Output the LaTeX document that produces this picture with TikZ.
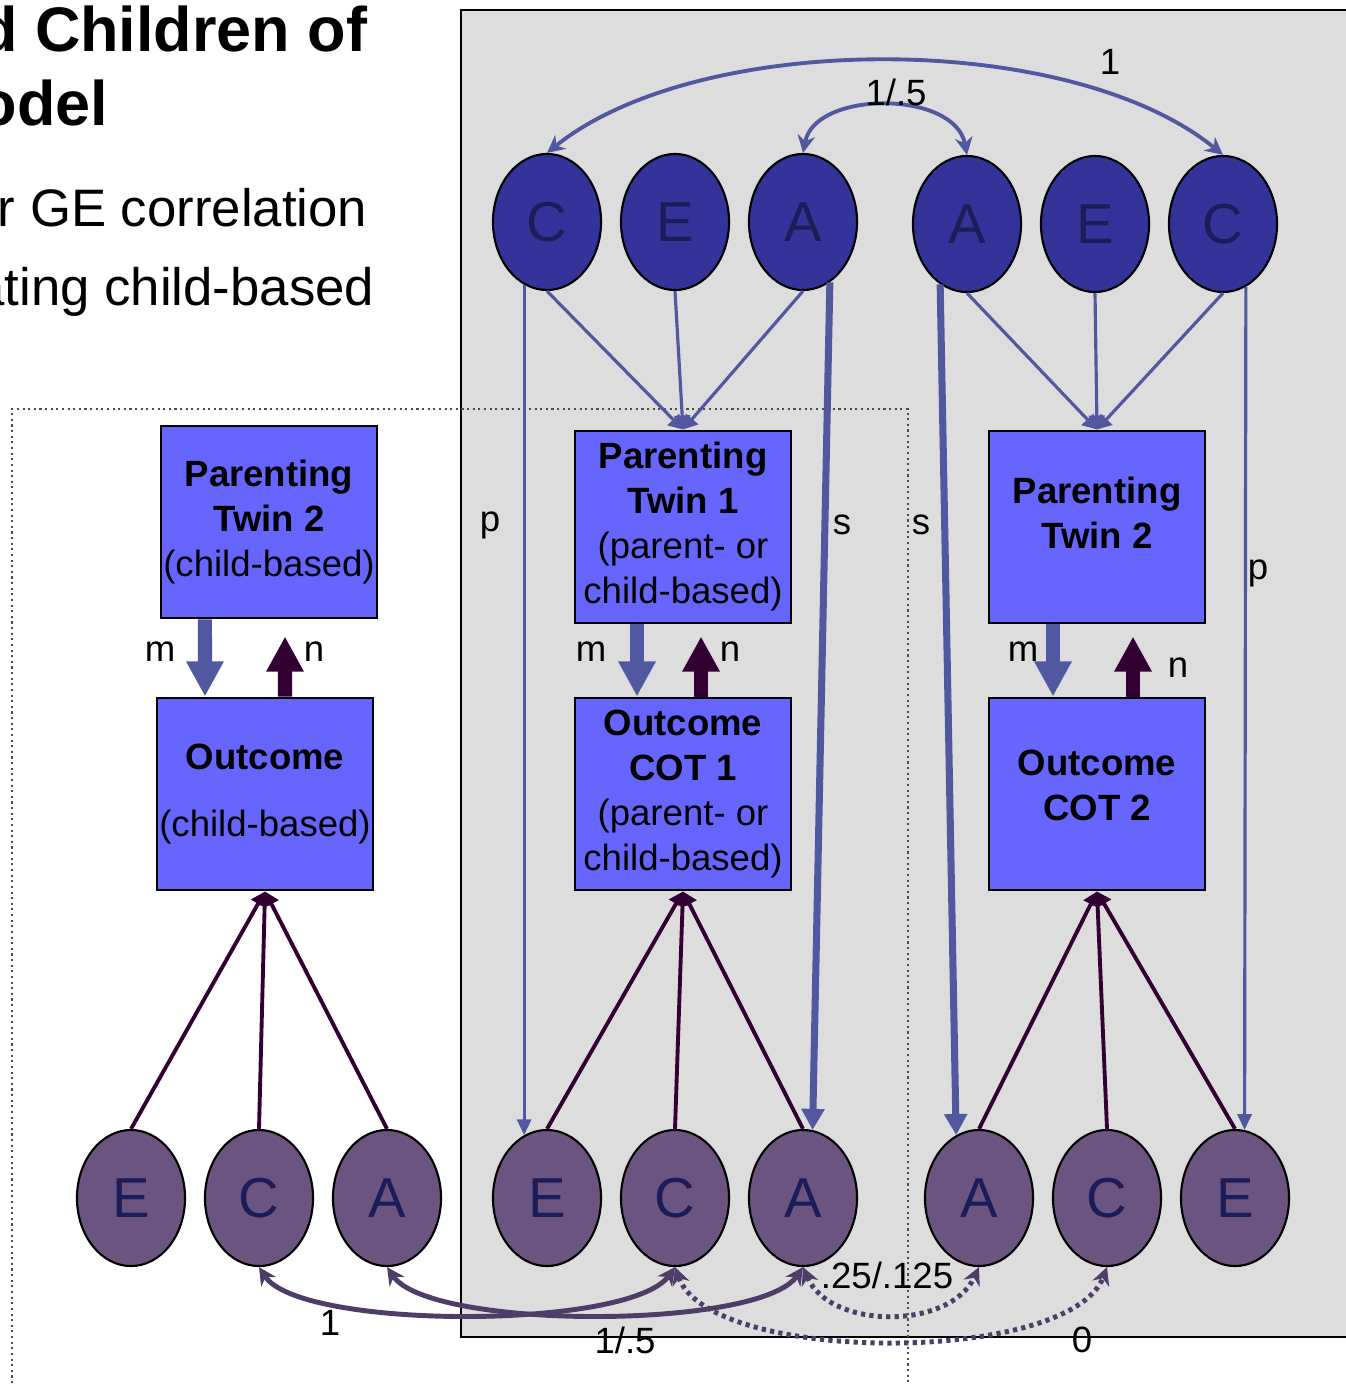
\documentclass[tikz,border=0pt]{standalone}
\usepackage{fontspec}
\setmainfont{Liberation Sans}
\usetikzlibrary{shapes.geometric,arrows.meta}

\definecolor{topfill}{HTML}{333399}
\definecolor{botfill}{HTML}{6B5580}
\definecolor{letter}{HTML}{1C1C58}
\definecolor{boxfill}{HTML}{6666FF}
\definecolor{bgray}{HTML}{DDDDDD}
\definecolor{pathblue}{HTML}{5258A0}
\definecolor{pathpurple}{HTML}{330033}
\definecolor{corrpurple}{HTML}{4E3D68}

\tikzset{
  latent/.style={ellipse,draw=black,line width=0.6pt,minimum width=1.08cm,
    minimum height=1.36cm,inner sep=0pt,text=letter,font=\fontsize{16}{16}\selectfont},
  toplat/.style={latent,fill=topfill},
  botlat/.style={latent,fill=botfill},
  measure/.style={draw=black,line width=0.8pt,fill=boxfill,minimum width=2.16cm,
    minimum height=1.92cm,inner sep=0pt,align=center,font=\fontsize{10.4}{12.8}\selectfont},
  lbl/.style={inner sep=0pt,font=\fontsize{10.4}{12.8}\selectfont},
  ttl/.style={inner sep=0pt,font=\fontsize{17.9}{20}\selectfont\bfseries},
  subttl/.style={inner sep=0pt,font=\fontsize{15}{18}\selectfont},
  frame/.style={draw=black!70,line width=0.5pt,dash pattern=on 0.6pt off 1pt},
  load/.style={draw=pathblue,line width=0.9pt,-{Triangle[length=4pt,width=4.5pt]}},
  ploading/.style={draw=pathpurple,line width=1.1pt,-{Triangle[length=4pt,width=4.5pt]}},
  ppath/.style={draw=pathblue,line width=0.9pt,-{Triangle[length=4.5pt,width=4pt]}},
  spath/.style={draw=pathblue,line width=2pt,-{Triangle[length=6pt,width=6.3pt]}},
  marrow/.style={draw=pathblue,line width=4pt,-{Triangle[length=10pt,width=10pt]}},
  narrow/.style={draw=pathpurple,line width=4pt,-{Triangle[length=10pt,width=10pt]}},
  topcorr/.style={draw=pathblue,line width=1.1pt,
    {Stealth[length=5pt,width=5pt]}-{Stealth[length=5pt,width=5pt]}},
  botcorr/.style={draw=corrpurple,line width=1.4pt,
    {Stealth[length=5pt,width=5pt]}-{Stealth[length=5pt,width=5pt]}},
  botcorrdot/.style={botcorr,dash pattern=on 1.2pt off 1.2pt}
}

\begin{document}
\begin{tikzpicture}[x=0.01cm,y=-0.01cm]
    \useasboundingbox (0,0) rectangle (1346,1385);
    % panel and dotted frame
    \draw[fill=bgray,line width=0.6pt] (461,10) rectangle (1400,1337);
    \draw[frame] (12,1400) -- (12,409) -- (908,409) -- (908,1400);
    % title, cut off at the left edge
    \node[ttl,anchor=base east] (t1) at (368,52) {d Children of};
    \node[ttl,anchor=base east] (t2) at (109,126) {odel};
    \node[subttl,anchor=base east] (t3) at (368,227) {r GE correlation};
    \node[subttl,anchor=base east] (t4) at (375,305) {ating child-based};
    % latent factors
    \foreach \n/\x/\y/\t in {tc1/547/222/C,te1/675/222/E,ta1/803/222/A,
        ta2/967/224/A,te2/1095/224/E,tc2/1223/224/C}
      \node[toplat] (\n) at (\x,\y) {\t};
    \foreach \n/\x/\t in {lbe/131/E,lbc/259/C,lba/387/A,mbe/547/E,mbc/675/C,
        mba/803/A,rba/979/A,rbc/1107/C,rbe/1235/E}
      \node[botlat] (\n) at (\x,1198) {\t};
    % measured variables
    \node[measure] (lpar) at (269,522) {\textbf{Parenting}\\\textbf{Twin 2}\\(child-based)};
    \node[measure] (lout) at (265,794) {\textbf{Outcome}\\[0.22cm](child-based)};
    \node[measure] (mpar) at (683,527) {\textbf{Parenting}\\\textbf{Twin 1}\\(parent- or\\child-based)};
    \node[measure] (mout) at (683,794) {\textbf{Outcome}\\\textbf{COT 1}\\(parent- or\\child-based)};
    \node[measure] (rpar) at (1097,527) {\textbf{Parenting}\\\textbf{Twin 2}\\[-0.17cm]\mbox{}};
    \node[measure] (rout) at (1097,794) {\textbf{Outcome}\\\textbf{COT 2}\\[-0.27cm]\mbox{}};
    % loadings
    \foreach \n in {tc1,te1,ta1}
      \draw[load] (\n.south) -- (mpar.north);
    \foreach \n in {ta2,te2,tc2}
      \draw[load] (\n.south) -- (rpar.north);
    \foreach \n in {lbe,lbc,lba}
      \draw[ploading] (\n.north) -- (lout.south);
    \foreach \n in {mbe,mbc,mba}
      \draw[ploading] (\n.north) -- (mout.south);
    \foreach \n in {rba,rbc,rbe}
      \draw[ploading] (\n.north) -- (rout.south);
    % m and n
    \draw[marrow] ([xshift=-0.64cm]lpar.south) -- ([xshift=-0.60cm]lout.north);
    \draw[narrow] ([xshift=0.20cm]lout.north) -- ([xshift=0.16cm,yshift=-0.17cm]lpar.south);
    \draw[marrow] ([xshift=-0.46cm]mpar.south) -- ([xshift=-0.46cm]mout.north);
    \draw[narrow] ([xshift=0.18cm]mout.north) -- ([xshift=0.18cm,yshift=-0.12cm]mpar.south);
    \draw[marrow] ([xshift=-0.44cm]rpar.south) -- ([xshift=-0.44cm]rout.north);
    \draw[narrow] ([xshift=0.36cm]rout.north) -- ([xshift=0.36cm,yshift=-0.12cm]rpar.south);
    \node[lbl] (m1) at (160,652) {m};
    \node[lbl] (n1) at (314,652) {n};
    \node[lbl] (m2) at (591,652) {m};
    \node[lbl] (n2) at (730,652) {n};
    \node[lbl] (m3) at (1023,652) {m};
    \node[lbl] (n3) at (1178,668) {n};
    % p and s
    \draw[ppath] (tc1.250) -- (mbe.110);
    \draw[spath] (ta1.294) -- (mba.82);
    \draw[spath] (ta2.246) -- (rba.110);
    \draw[ppath] (tc2.290) -- (rbe.82);
    \node[lbl] (p1) at (490,525) {p};
    \node[lbl] (s1) at (842,525) {s};
    \node[lbl] (s2) at (921,525) {s};
    \node[lbl] (p2) at (1258,573) {p};
    % correlations
    \draw[topcorr] (tc1.north) .. controls (700,30) and (1070,30) .. (tc2.north);
    \draw[topcorr] (ta1.north) .. controls (815,90) and (955,90) .. (ta2.north);
    \node[lbl] (r1) at (1110,62) {1};
    \node[lbl] (r2) at (896,92) {1/.5};
    \draw[botcorr] (lbc.south) .. controls (300,1330) and (630,1330) .. (mbc.south);
    \draw[botcorr] (lba.south) .. controls (430,1330) and (760,1330) .. (mba.south);
    \draw[botcorrdot] (mbc.south) .. controls (710,1365) and (1070,1365) .. (rbc.south);
    \draw[botcorrdot] (mba.south) .. controls (830,1330) and (950,1330) .. (rba.south);
    \node[lbl] (r3) at (330,1323) {1};
    \node[lbl] (r4) at (625,1340) {1/.5};
    \node[lbl] (r5) at (887,1275) {.25/.125};
    \node[lbl] (r6) at (1082,1340) {0};
\end{tikzpicture}
\end{document}
